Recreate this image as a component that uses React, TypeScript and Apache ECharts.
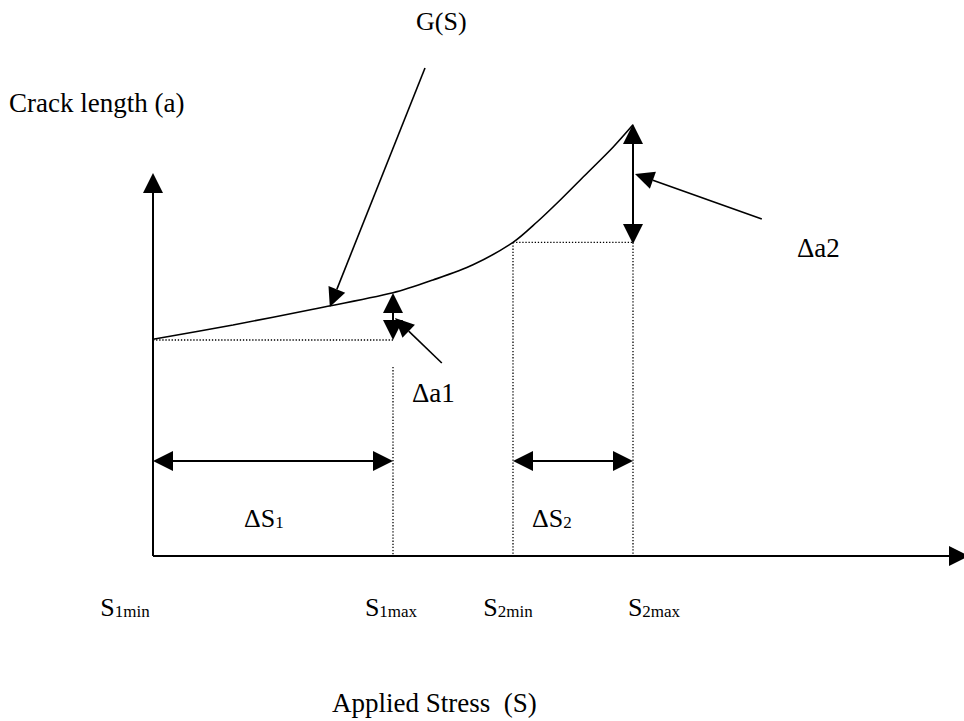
import React, { useEffect, useRef } from "react";
import * as echarts from "echarts";

// Curve G(S): applied stress S vs crack length a
const S_VALUES = [0, 10, 20, 30, 35, 40, 45, 48, 51, 54, 57.5, 60];
const A_VALUES = [54.2, 57.75, 61.7, 65.8, 69, 72.8, 78.4, 83.5, 89.2, 95.2, 102.2, 107.8];

// x-axis tick labels (S with subscripts)
const TICK_VALUES = [0, 30, 45, 60];
const TICK_SUBS = ["1min", "1max", "2min", "2max"];

// segments: [S1, a1, S2, a2, headAtStart, headAtEnd]
const AXES = [
  [0, 0, 0, 95.75, 0, 1],
  [0, 0, 102, 0, 0, 1],
];
const DIMENSION_ARROWS = [
  [30, 54, 30, 65.75, 1, 1],
  [60, 78, 60, 108, 1, 1],
  [0, 23.75, 30, 23.75, 1, 1],
  [45, 23.75, 60, 23.75, 1, 1],
];
const POINTERS = [
  [34, 122, 22.1, 62.25, 0, 1],
  [76.1, 84.25, 60.25, 95.5, 0, 1],
  [36.1, 48.25, 30.25, 59.5, 0, 1],
];
const DOTTED = [
  [0, 54, 30, 54],
  [30, 47.25, 30, 0],
  [45, 78.4, 45, 0],
  [45, 78.4, 60, 78.4],
  [60, 78.4, 60, 0],
];

const FONT = "'Liberation Serif', 'Times New Roman', serif";
const TICK_SHIFT = [-28, -2, -5, 21];

function arrowRenderer(lineWidth: number, headLen: number, headHalf: number) {
  return (params: any, api: any) => {
    const a = api.coord([api.value(0), api.value(1)]);
    const b = api.coord([api.value(2), api.value(3)]);
    const hs = api.value(4);
    const he = api.value(5);
    const dx = b[0] - a[0];
    const dy = b[1] - a[1];
    const len = Math.hypot(dx, dy) || 1;
    const ux = dx / len;
    const uy = dy / len;
    const nx = -uy;
    const ny = ux;
    const children: any[] = [];
    let s = [a[0], a[1]];
    let e = [b[0], b[1]];
    if (he) {
      e = [b[0] - ux * headLen, b[1] - uy * headLen];
      children.push({
        type: "polygon",
        shape: {
          points: [
            [b[0], b[1]],
            [e[0] + nx * headHalf, e[1] + ny * headHalf],
            [e[0] - nx * headHalf, e[1] - ny * headHalf],
          ],
        },
        style: { fill: "#000" },
      });
    }
    if (hs) {
      s = [a[0] + ux * headLen, a[1] + uy * headLen];
      children.push({
        type: "polygon",
        shape: {
          points: [
            [a[0], a[1]],
            [s[0] + nx * headHalf, s[1] + ny * headHalf],
            [s[0] - nx * headHalf, s[1] - ny * headHalf],
          ],
        },
        style: { fill: "#000" },
      });
    }
    children.unshift({
      type: "line",
      shape: { x1: s[0], y1: s[1], x2: e[0], y2: e[1] },
      style: { stroke: "#000", lineWidth },
    });
    return { type: "group", children };
  };
}

function dottedRenderer(params: any, api: any) {
  const a = api.coord([api.value(0), api.value(1)]);
  const b = api.coord([api.value(2), api.value(3)]);
  return {
    type: "line",
    shape: { x1: a[0], y1: a[1], x2: b[0], y2: b[1] },
    style: { stroke: "#000", lineWidth: 1.3, lineDash: [1.3, 1.8] },
  };
}

export default function App() {
  const ref = useRef<HTMLDivElement>(null);
  useEffect(() => {
    if (!ref.current) return;
    const chart = echarts.init(ref.current, null, { renderer: "svg" });

    const rich: any = {};
    TICK_VALUES.forEach((v, i) => {
      const d = TICK_SHIFT[i];
      rich["s" + i] = {
        fontSize: 26,
        fontFamily: FONT,
        color: "#000",
        lineHeight: 30,
        verticalAlign: "bottom",
        padding: d > 0 ? [0, 0, 0, 2 * d] : 0,
      };
      rich["b" + i] = {
        fontSize: 17,
        fontFamily: FONT,
        color: "#000",
        lineHeight: 20,
        verticalAlign: "bottom",
        padding: d < 0 ? [0, -2 * d, 0, 0] : 0,
      };
    });

    const subRich = {
      s: { fontSize: 26, fontFamily: FONT, fill: "#000", lineHeight: 30, verticalAlign: "bottom" },
      b: { fontSize: 17, fontFamily: FONT, fill: "#000", lineHeight: 20, verticalAlign: "bottom" },
    };

    const textStyle = (text: string) => ({
      text,
      fontSize: 27,
      fontFamily: FONT,
      fill: "#000",
      verticalAlign: "middle",
      align: "left",
    });

    chart.setOption({
      animation: false,
      backgroundColor: "#fff",
      grid: { left: 153, right: 11, top: 116, bottom: 165 },
      xAxis: {
        type: "value",
        min: 0,
        max: 100,
        axisLine: { show: false },
        axisTick: { show: false },
        splitLine: { show: false },
        axisLabel: {
          show: true,
          customValues: TICK_VALUES,
          margin: 34,
          formatter: (value: number) => {
            const i = TICK_VALUES.indexOf(value);
            if (i < 0) return "";
            return `{s${i}|S}{b${i}|${TICK_SUBS[i]}}`;
          },
          rich,
        },
      },
      yAxis: {
        type: "value",
        min: 0,
        max: 110,
        axisLine: { show: false },
        axisTick: { show: false },
        splitLine: { show: false },
        axisLabel: { show: false },
      },
      series: [
        {
          type: "line",
          data: S_VALUES.map((s, i) => [s, A_VALUES[i]]),
          smooth: 0.3,
          symbol: "none",
          lineStyle: { color: "#000", width: 1.6 },
          z: 3,
        },
        {
          type: "custom",
          data: DOTTED,
          renderItem: dottedRenderer,
          z: 2,
        },
        {
          type: "custom",
          data: AXES,
          renderItem: arrowRenderer(2, 20, 10),
          z: 4,
        },
        {
          type: "custom",
          data: DIMENSION_ARROWS,
          renderItem: arrowRenderer(2, 20, 10),
          z: 4,
        },
        {
          type: "custom",
          data: POINTERS,
          renderItem: arrowRenderer(1.6, 19, 9),
          z: 4,
        },
      ],
      graphic: [
        { type: "text", x: 416, y: 21, style: { ...textStyle("G(S)"), fontSize: 26 } },
        { type: "text", x: 9, y: 103, style: textStyle("Crack length (a)") },
        { type: "text", x: 797, y: 248, style: textStyle("\u0394a2") },
        { type: "text", x: 412, y: 393, style: textStyle("\u0394a1") },
        {
          type: "text",
          x: 244,
          y: 516,
          style: { text: "{s|\u0394S}{b|1}", rich: subRich, verticalAlign: "middle", align: "left" },
        },
        {
          type: "text",
          x: 532,
          y: 516,
          style: { text: "{s|\u0394S}{b|2}", rich: subRich, verticalAlign: "middle", align: "left" },
        },
        { type: "text", x: 332, y: 703, style: textStyle("Applied Stress  (S)") },
      ],
    });
    return () => chart.dispose();
  }, []);
  return (
    <div
      ref={ref}
      style={{ position: "fixed", left: 0, top: 0, width: 964, height: 721, background: "#fff" }}
    />
  );
}
